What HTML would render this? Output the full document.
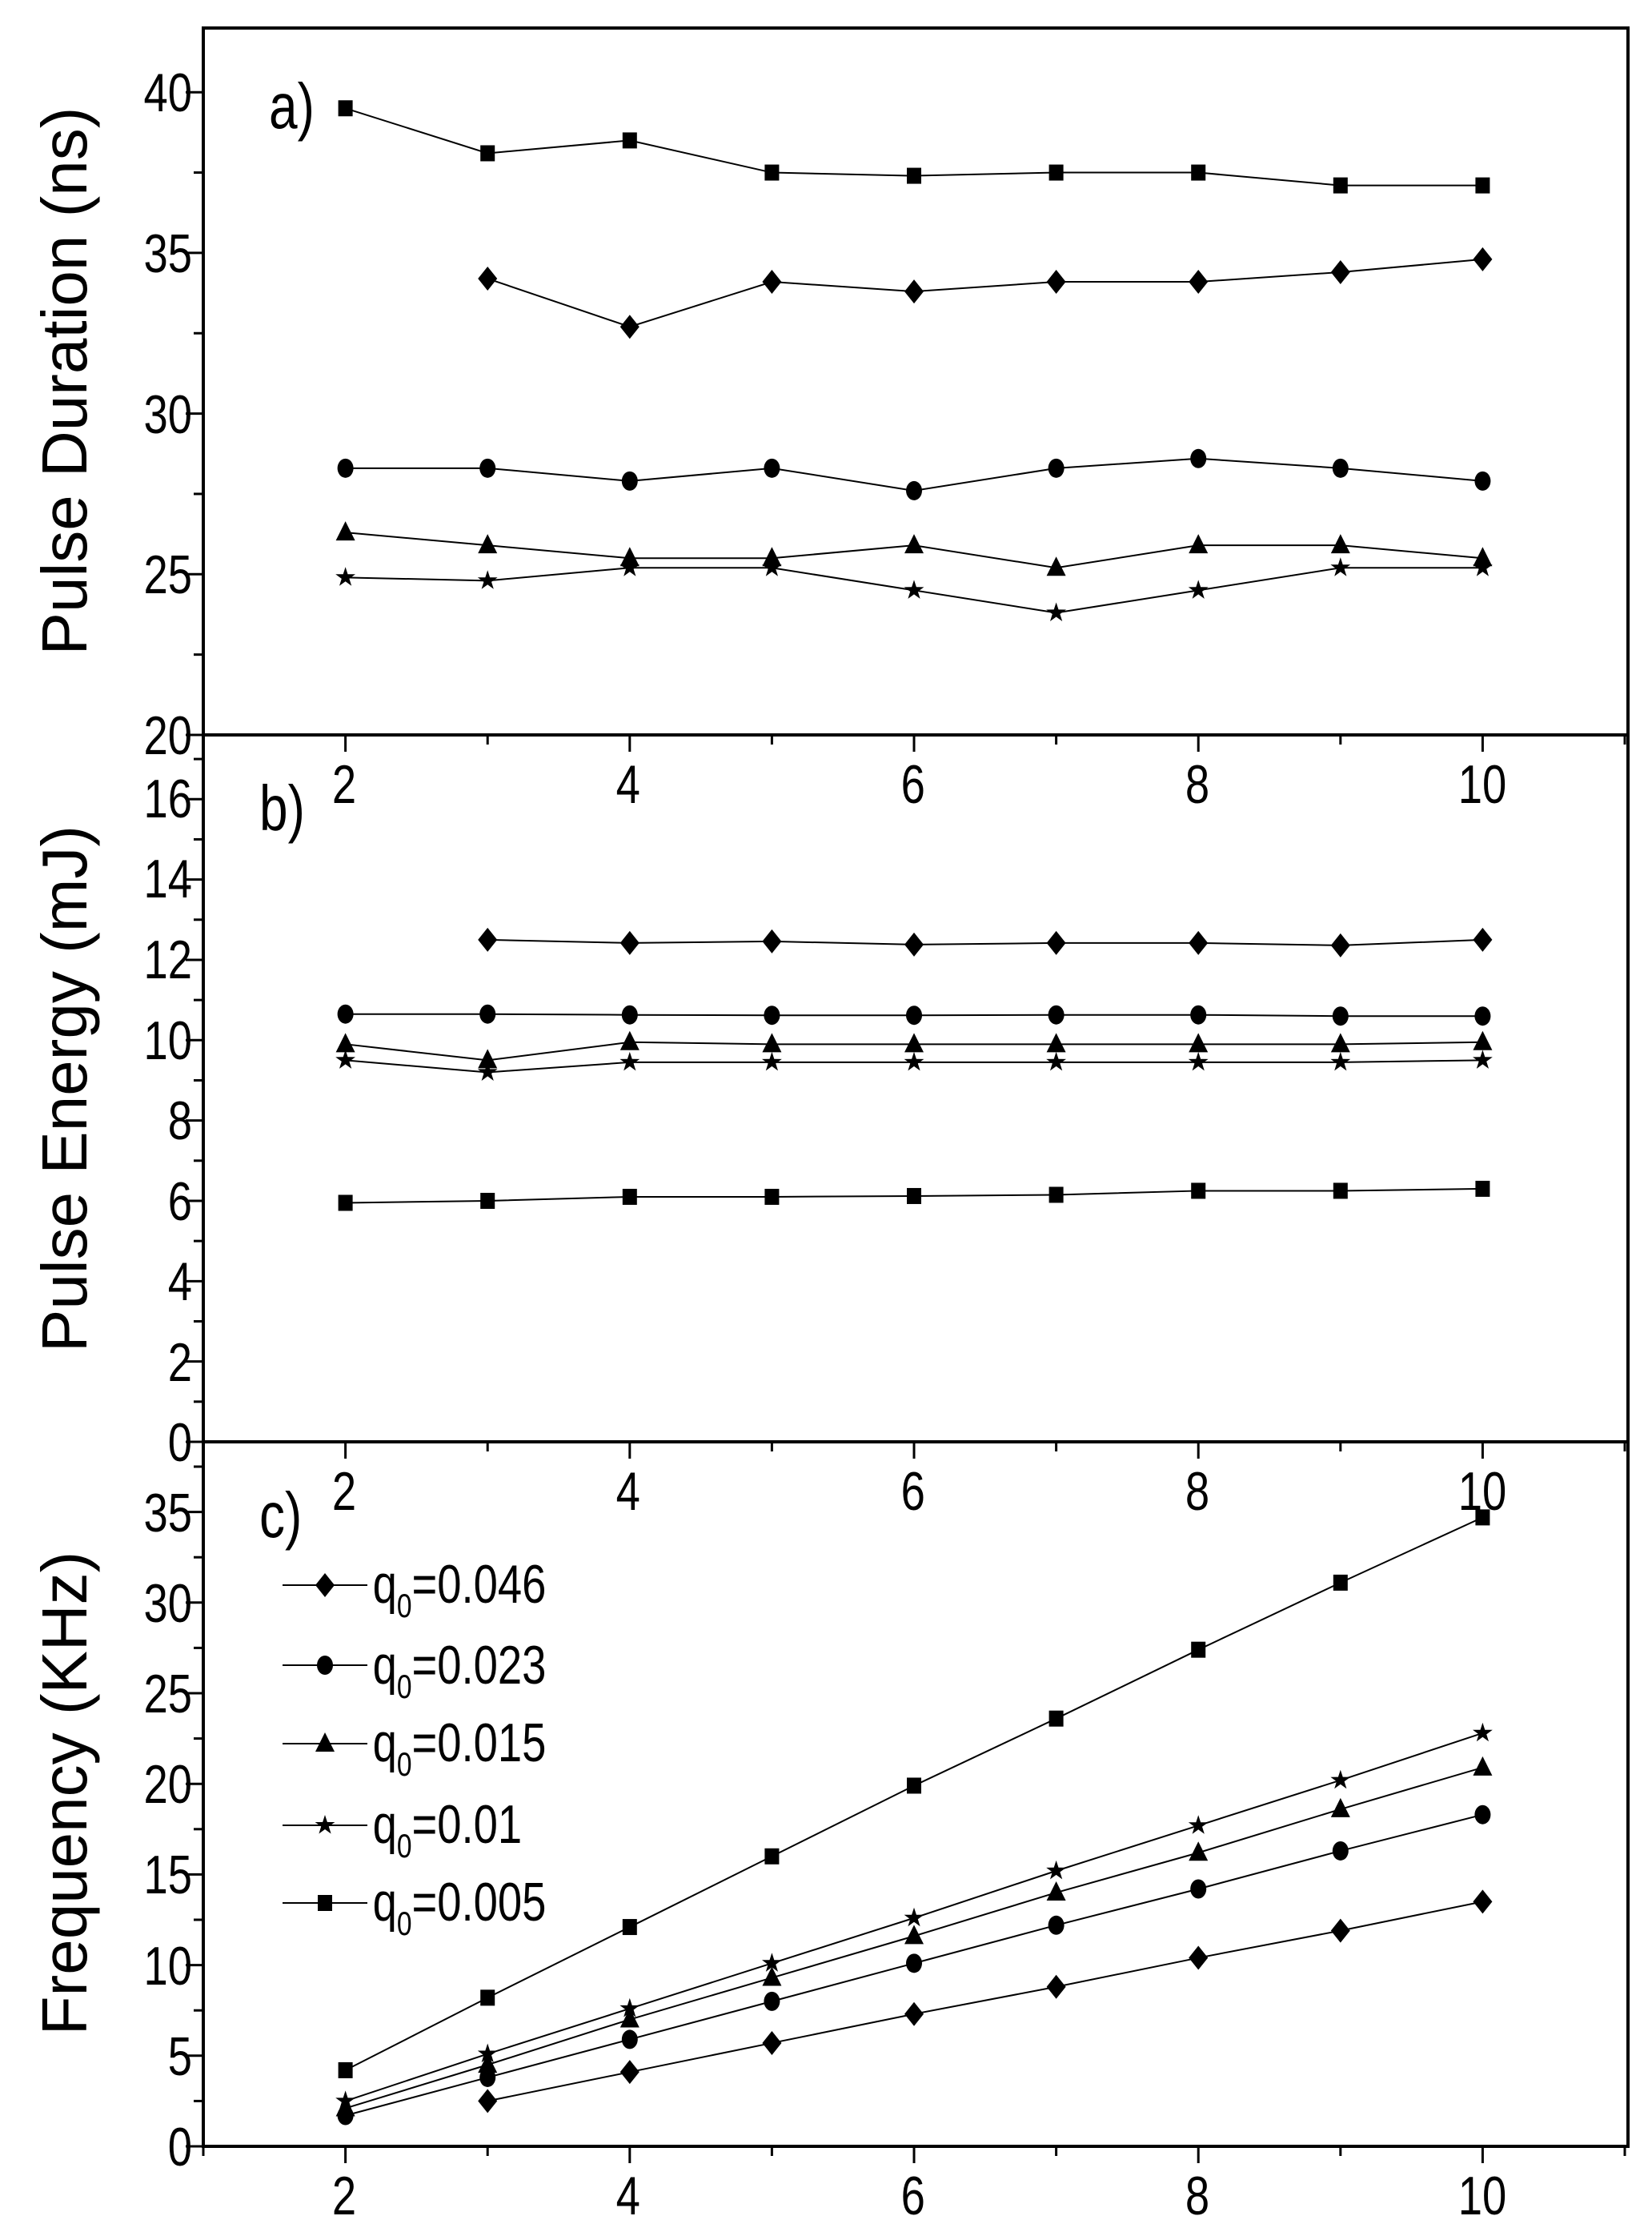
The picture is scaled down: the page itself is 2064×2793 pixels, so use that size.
<!DOCTYPE html>
<html><head><meta charset="utf-8"><style>
html,body{margin:0;padding:0;background:#fff;}
svg{display:block;}
text{font-family:"Liberation Sans",Arial,sans-serif;fill:#000;}
</style></head><body>
<svg id="s" width="2064" height="2793" viewBox="0 0 2064 2793" xmlns="http://www.w3.org/2000/svg">
<g id="frame" stroke="#000" stroke-width="4" fill="none">
<rect x="254" y="35" width="1780" height="2646"/>
<line x1="254" y1="918" x2="2034" y2="918"/>
<line x1="254" y1="1801" x2="2034" y2="1801"/>
</g>
<g id="ticks" stroke="#000" stroke-width="3"></g>
<g id="data"></g>
<g transform="scale(0.8,1)">
<g font-size="68" text-anchor="end">
<text x="300" y="942">20</text><text x="300" y="741">25</text><text x="300" y="541">30</text><text x="300" y="340">35</text><text x="300" y="139">40</text>
<text x="300" y="1825">0</text><text x="300" y="1725">2</text><text x="300" y="1624">4</text><text x="300" y="1524">6</text><text x="300" y="1423">8</text><text x="300" y="1323">10</text><text x="300" y="1222">12</text><text x="300" y="1121">14</text><text x="300" y="1021">16</text>
<text x="300" y="2705">0</text><text x="300" y="2592">5</text><text x="300" y="2479">10</text><text x="300" y="2365">15</text><text x="300" y="2252">20</text><text x="300" y="2139">25</text><text x="300" y="2026">30</text><text x="300" y="1913">35</text>
</g>
<g font-size="68" text-anchor="middle">
<text x="537.5" y="1003">2</text><text x="981" y="1003">4</text><text x="1426" y="1003">6</text><text x="1870" y="1003">8</text><text x="2315" y="1003">10</text>
<text x="537.5" y="1886">2</text><text x="981" y="1886">4</text><text x="1426" y="1886">6</text><text x="1870" y="1886">8</text><text x="2315" y="1886">10</text>
<text x="537.5" y="2766">2</text><text x="981" y="2766">4</text><text x="1426" y="2766">6</text><text x="1870" y="2766">8</text><text x="2315" y="2766">10</text>
</g>
<g font-size="80">
<text x="420" y="160">a)</text>
<text x="405" y="1037">b)</text>
<text x="405" y="1920">c)</text>
</g>
<g font-size="68">
<text x="582" y="2002">q<tspan font-size="42" dy="18">0</tspan><tspan dy="-18">=0.046</tspan></text>
<text x="582" y="2103">q<tspan font-size="42" dy="18">0</tspan><tspan dy="-18">=0.023</tspan></text>
<text x="582" y="2200">q<tspan font-size="42" dy="18">0</tspan><tspan dy="-18">=0.015</tspan></text>
<text x="582" y="2302">q<tspan font-size="42" dy="18">0</tspan><tspan dy="-18">=0.01</tspan></text>
<text x="582" y="2399">q<tspan font-size="42" dy="18">0</tspan><tspan dy="-18">=0.005</tspan></text>
</g>
</g>
<g font-size="80" text-anchor="middle">
<text transform="translate(108,476) rotate(-90)">Pulse Duration (ns)</text>
<text transform="translate(108,1360) rotate(-90)">Pulse Energy (mJ)</text>
<text transform="translate(108,2240) rotate(-90)">Frequency (KHz)</text>
</g>
</svg>
<script>
var NS="http://www.w3.org/2000/svg";
function el(p,t,a){var e=document.createElementNS(NS,t);for(var k in a)e.setAttribute(k,a[k]);p.appendChild(e);return e;}
var X=function(x){return 254+(x-1)*177.6;};
var Ya=function(v){return 918-(v-20)*40.14;};
var Yb=function(v){return 1801-v*50.17;};
var Yc=function(v){return 2681-v*22.64;};
var T=document.getElementById('ticks'),D=document.getElementById('data');
[918,1801,2681].forEach(function(y){for(var x=1;x<=11;x++){var L=(x%2==0)?21:12;el(T,'line',{x1:X(x),y1:y,x2:X(x),y2:y+L});}});
function yt(f,lo,hi,step){for(var v=lo,i=0;v<=hi+1e-6;v+=step/2,i++){var L=(i%2==0)?22:12;el(T,'line',{x1:254,y1:f(v),x2:254-L,y2:f(v)});}}
yt(Ya,20,42,5);yt(Yb,0,17.5,2);yt(Yc,0,39,5);
function mk(t,x,y){
 if(t=='sq')el(D,'rect',{x:x-9,y:y-10,width:18,height:20});
 else if(t=='ci')el(D,'ellipse',{cx:x,cy:y,rx:10,ry:12});
 else if(t=='di')el(D,'polygon',{points:(x)+','+(y-15)+' '+(x+12)+','+y+' '+x+','+(y+15)+' '+(x-12)+','+y});
 else if(t=='tr')el(D,'polygon',{points:(x)+','+(y-14)+' '+(x+12)+','+(y+10)+' '+(x-12)+','+(y+10)});
 else if(t=='st'){var p=[];for(var i=0;i<10;i++){var r=i%2?5:13,a=-Math.PI/2+i*Math.PI/5;p.push((x+r*Math.cos(a)).toFixed(1)+','+(y+r*Math.sin(a)).toFixed(1));}el(D,'polygon',{points:p.join(' ')});}
}
function ser(f,x0,vals,t){var pts=vals.map(function(v,i){return [X(x0+i),f(v)];});
 el(D,'polyline',{points:pts.map(function(p){return p.join(',')}).join(' '),fill:'none',stroke:'#000','stroke-width':2});
 pts.forEach(function(p){mk(t,p[0],p[1]);});}
ser(Ya,2,[39.5,38.1,38.5,37.5,37.4,37.5,37.5,37.1,37.1],'sq');
ser(Ya,3,[34.2,32.7,34.1,33.8,34.1,34.1,34.4,34.8],'di');
ser(Ya,2,[28.3,28.3,27.9,28.3,27.6,28.3,28.6,28.3,27.9],'ci');
ser(Ya,2,[26.3,25.9,25.5,25.5,25.9,25.2,25.9,25.9,25.5],'tr');
ser(Ya,2,[24.9,24.8,25.2,25.2,24.5,23.8,24.5,25.2,25.2],'st');
ser(Yb,3,[12.5,12.42,12.46,12.38,12.42,12.42,12.36,12.5],'di');
ser(Yb,2,[10.65,10.65,10.63,10.62,10.62,10.63,10.63,10.6,10.6],'ci');
ser(Yb,2,[9.9,9.5,9.95,9.9,9.9,9.9,9.9,9.9,9.95],'tr');
ser(Yb,2,[9.5,9.2,9.45,9.45,9.45,9.45,9.45,9.45,9.5],'st');
ser(Yb,2,[5.95,6.0,6.1,6.1,6.12,6.15,6.25,6.25,6.3],'sq');
ser(Yc,2,[4.2,8.2,12.1,16,19.9,23.6,27.4,31.1,34.7],'sq');
ser(Yc,2,[2.5,5.1,7.6,10.1,12.6,15.2,17.7,20.2,22.8],'st');
ser(Yc,2,[2.1,4.5,7.0,9.3,11.6,14.0,16.2,18.6,20.9],'tr');
ser(Yc,2,[1.7,3.8,5.9,8.0,10.1,12.2,14.2,16.3,18.3],'ci');
ser(Yc,3,[2.5,4.1,5.7,7.3,8.8,10.4,11.9,13.5],'di');
[['di',1980],['ci',2080],['tr',2178],['st',2280],['sq',2377]].forEach(function(r){
 el(D,'line',{x1:353,y1:r[1],x2:459,y2:r[1],stroke:'#000','stroke-width':2});mk(r[0],406,r[1]);});
</script>
</body></html>
